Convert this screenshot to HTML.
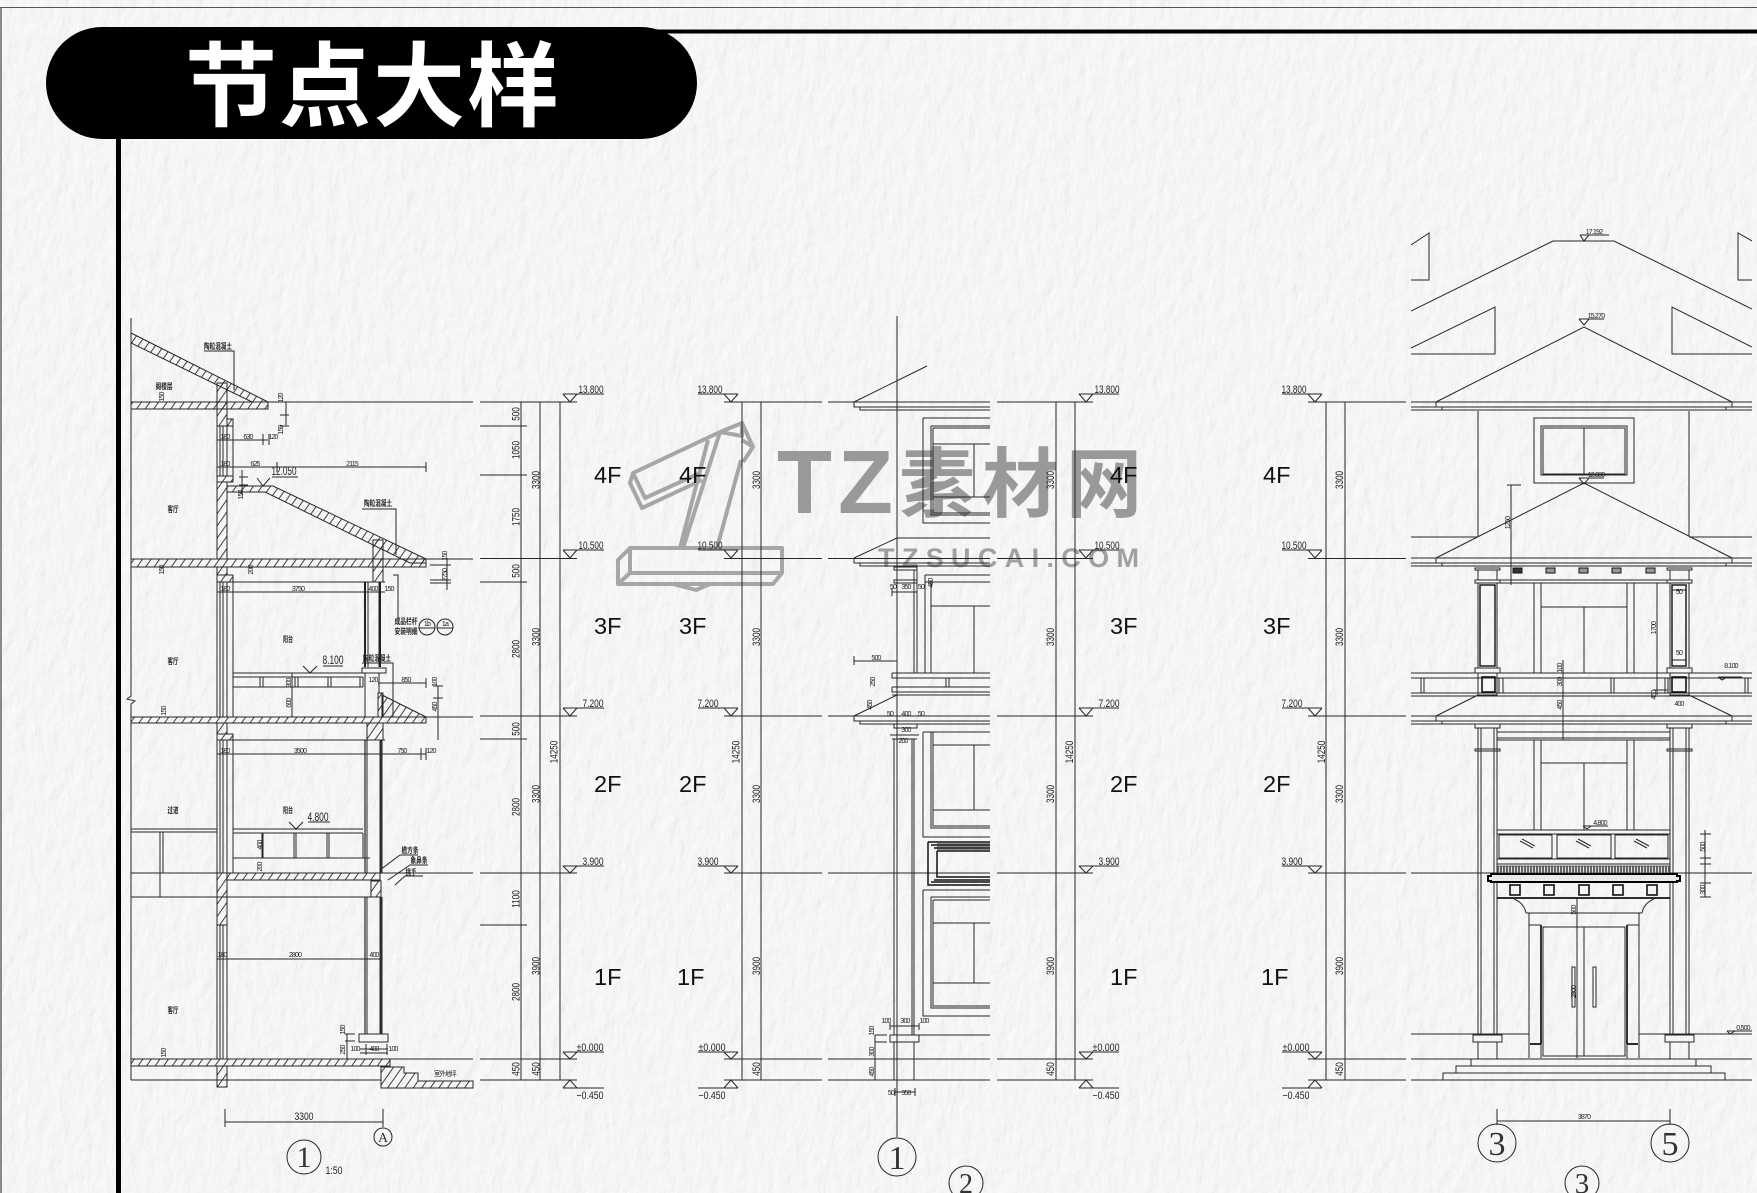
<!DOCTYPE html>
<html><head><meta charset="utf-8"><style>
html,body{margin:0;padding:0;background:#ececec}
svg{display:block}
.l{fill:none;stroke:#262626;stroke-width:1}
.h{fill:url(#hatch);stroke:#262626;stroke-width:1}
text{font-family:"Liberation Sans","Noto Sans CJK SC",sans-serif;fill:#222;text-anchor:middle}
.t{font-size:7px;letter-spacing:-.8px}
.d{font-size:11px}
.e{font-size:11px}
.f{font-family:"Liberation Sans",sans-serif;font-size:23.5px;fill:#111;text-anchor:start}
.c{font-family:"Liberation Sans","Noto Sans CJK SC",sans-serif;font-size:8px;font-weight:bold;fill:#222}
.s{font-family:"Liberation Serif",serif;fill:#333}
</style></head><body>
<svg xmlns="http://www.w3.org/2000/svg" width="1757" height="1193" viewBox="0 0 1757 1193">
<defs>
<pattern id="hatch" width="7" height="7" patternUnits="userSpaceOnUse" patternTransform="rotate(-55)"><path d="M0 3.500H7" stroke="#2a2a2a" stroke-width=".9"/></pattern>
<pattern id="dent" width="3" height="8" patternUnits="userSpaceOnUse"><rect width="3" height="8" fill="#ddd"/><path d="M1 0V8" stroke="#222" stroke-width="1.3"/></pattern>
<filter id="paper" x="0" y="0" width="100%" height="100%"><feTurbulence type="fractalNoise" baseFrequency=".09 .05" numOctaves="4" seed="11" result="n"/><feDiffuseLighting in="n" surfaceScale=".8" diffuseConstant="1" lighting-color="#ffffff"><feDistantLight azimuth="40" elevation="68"/></feDiffuseLighting></filter>
<clipPath id="clipE"><rect x="1411" y="200" width="341" height="900"/></clipPath>
</defs>
<rect width="1757" height="1193" fill="#ececec"/>
<rect width="1757" height="1193" filter="url(#paper)" opacity=".9"/>

<!-- watermark -->
<g fill="none" stroke="#a6a6a6" stroke-width="4" stroke-linejoin="round">
<path d="M630 548H782V573L773 584H618V560Z M630 548V573H782 M618 584L630 573"/>
<path d="M673 584L696 590L710 584"/>
<path d="M720 432L633 473L630 483L642 508L702 480 M633 473L645 498L700 473"/>
<path d="M720 432L683 548 M708 440L680 548 M720 432L742 423L753 447L743 462 M742 423L742 436L720 432 M741 460L717 548 M753 447L742 440"/>
</g>
<g>
<text x="777" y="513" style="font-family:'Liberation Sans',sans-serif;font-size:90px;font-weight:bold;text-anchor:start;fill:#999">T</text>
<text x="838" y="513" style="font-family:'Liberation Sans',sans-serif;font-size:90px;font-weight:bold;text-anchor:start;fill:#999">Z</text>
<text x="899" y="511" style="font-family:'Noto Sans CJK SC',sans-serif;font-size:76px;font-weight:bold;text-anchor:start;fill:#999">素</text>
<text x="982" y="511" style="font-family:'Noto Sans CJK SC',sans-serif;font-size:76px;font-weight:bold;text-anchor:start;fill:#999">材</text>
<text x="1066" y="511" style="font-family:'Noto Sans CJK SC',sans-serif;font-size:76px;font-weight:bold;text-anchor:start;fill:#999">网</text>
<text x="878" y="567" textLength="261" lengthAdjust="spacing" style="font-family:'Liberation Sans',sans-serif;font-size:27px;font-weight:bold;text-anchor:start;fill:#a0a0a0">TZSUCAI.COM</text>
</g>

<!-- frame -->
<path d="M0 7.500H1757" stroke="#555" stroke-width="1" fill="none"/>
<path d="M1 7V1193" stroke="#666" stroke-width="1.5" fill="none"/>
<rect x="640" y="29.500" width="1117" height="4" fill="#000"/>
<rect x="116" y="100" width="5" height="1093" fill="#000"/>
<rect x="46" y="27" width="651" height="112" rx="56" ry="56" fill="#000"/>
<text x="373" y="119" style="font-family:'Noto Sans CJK SC',sans-serif;font-size:92px;font-weight:bold;fill:#fff;letter-spacing:2px;text-anchor:middle">节点大样</text>

<!-- floor & dimension lines -->
<path class="l" d="M480 402H577M480 558.500H577M480 716H577M480 873H577M480 1059H577M480 1080H577
M724 402H822M724 558.500H822M724 716H822M724 873H822M724 1059H822M724 1080H822
M828 402H990M828 558.500H990M828 716H990M828 873H990M828 1059H990M828 1080H990
M997 402H1093M997 558.500H1093M997 716H1093M997 873H1093M997 1059H1093M997 1080H1093
M1308 402H1406M1308 558.500H1406M1308 716H1406M1308 873H1406M1308 1059H1406M1308 1080H1406
M480 426H527M480 475H527M480 582H527M480 739H527M480 925H527
M521 402V1080M540 402V1080M560 402V1080
M742 402V1080M761 402V1080
M1056 402V1080M1075 402V1080
M1326 402V1080M1345 402V1080"/>

<!-- elevation markers -->
<path class="l" d="M563 394H604M563 394L570 402L577 394M563 550H604M563 550L570 558L577 550M563 708H604M563 708L570 716L577 708M563 866H604M563 866L570 873L577 866M563 1052H604M563 1052L570 1059L577 1052M563 1088H604M563 1088L570 1080L577 1088
M698 394H738M724 394L731 402L738 394M698 550H738M724 550L731 558L738 550M698 708H738M724 708L731 716L738 708M698 866H738M724 866L731 873L738 866M698 1052H738M724 1052L731 1059L738 1052M698 1088H738M724 1088L731 1080L738 1088
M1079 394H1119M1079 394L1086 402L1093 394M1079 550H1119M1079 550L1086 558L1093 550M1079 708H1119M1079 708L1086 716L1093 708M1079 866H1119M1079 866L1086 873L1093 866M1079 1052H1119M1079 1052L1086 1059L1093 1052M1079 1088H1119M1079 1088L1086 1080L1093 1088
M1282 394H1322M1308 394L1315 402L1322 394M1282 550H1322M1308 550L1315 558L1322 550M1282 708H1322M1308 708L1315 716L1322 708M1282 866H1322M1308 866L1315 873L1322 866M1282 1052H1322M1308 1052L1315 1059L1322 1052M1282 1088H1322M1308 1088L1315 1080L1322 1088"/>
<g>
<text class="e" x="591" y="393" textLength="25" lengthAdjust="spacingAndGlyphs">13.800</text><text class="e" x="591" y="549" textLength="25" lengthAdjust="spacingAndGlyphs">10.500</text><text class="e" x="593" y="707" textLength="21" lengthAdjust="spacingAndGlyphs">7.200</text><text class="e" x="593" y="865" textLength="21" lengthAdjust="spacingAndGlyphs">3.900</text><text class="e" x="590" y="1051" textLength="27" lengthAdjust="spacingAndGlyphs">±0.000</text><text class="e" x="590" y="1099" textLength="27" lengthAdjust="spacingAndGlyphs">−0.450</text>
<text class="e" x="710" y="393" textLength="25" lengthAdjust="spacingAndGlyphs">13.800</text><text class="e" x="710" y="549" textLength="25" lengthAdjust="spacingAndGlyphs">10.500</text><text class="e" x="708" y="707" textLength="21" lengthAdjust="spacingAndGlyphs">7.200</text><text class="e" x="708" y="865" textLength="21" lengthAdjust="spacingAndGlyphs">3.900</text><text class="e" x="712" y="1051" textLength="27" lengthAdjust="spacingAndGlyphs">±0.000</text><text class="e" x="712" y="1099" textLength="27" lengthAdjust="spacingAndGlyphs">−0.450</text>
<text class="e" x="1107" y="393" textLength="25" lengthAdjust="spacingAndGlyphs">13.800</text><text class="e" x="1107" y="549" textLength="25" lengthAdjust="spacingAndGlyphs">10.500</text><text class="e" x="1109" y="707" textLength="21" lengthAdjust="spacingAndGlyphs">7.200</text><text class="e" x="1109" y="865" textLength="21" lengthAdjust="spacingAndGlyphs">3.900</text><text class="e" x="1106" y="1051" textLength="27" lengthAdjust="spacingAndGlyphs">±0.000</text><text class="e" x="1106" y="1099" textLength="27" lengthAdjust="spacingAndGlyphs">−0.450</text>
<text class="e" x="1294" y="393" textLength="25" lengthAdjust="spacingAndGlyphs">13.800</text><text class="e" x="1294" y="549" textLength="25" lengthAdjust="spacingAndGlyphs">10.500</text><text class="e" x="1292" y="707" textLength="21" lengthAdjust="spacingAndGlyphs">7.200</text><text class="e" x="1292" y="865" textLength="21" lengthAdjust="spacingAndGlyphs">3.900</text><text class="e" x="1296" y="1051" textLength="27" lengthAdjust="spacingAndGlyphs">±0.000</text><text class="e" x="1296" y="1099" textLength="27" lengthAdjust="spacingAndGlyphs">−0.450</text>
</g>

<!-- dim texts -->
<g>
<text class="d" transform="translate(519.500,414) rotate(-90) scale(.74,1)">500</text><text class="d" transform="translate(519.500,450) rotate(-90) scale(.74,1)">1050</text><text class="d" transform="translate(519.500,517) rotate(-90) scale(.74,1)">1750</text><text class="d" transform="translate(519.500,571) rotate(-90) scale(.74,1)">500</text><text class="d" transform="translate(519.500,649) rotate(-90) scale(.74,1)">2800</text><text class="d" transform="translate(519.500,729) rotate(-90) scale(.74,1)">500</text><text class="d" transform="translate(519.500,807) rotate(-90) scale(.74,1)">2800</text><text class="d" transform="translate(519.500,899) rotate(-90) scale(.74,1)">1100</text><text class="d" transform="translate(519.500,992) rotate(-90) scale(.74,1)">2800</text><text class="d" transform="translate(519.500,1069) rotate(-90) scale(.74,1)">450</text>
<text class="d" transform="translate(539.500,480) rotate(-90) scale(.74,1)">3300</text><text class="d" transform="translate(539.500,637) rotate(-90) scale(.74,1)">3300</text><text class="d" transform="translate(539.500,794) rotate(-90) scale(.74,1)">3300</text><text class="d" transform="translate(539.500,966) rotate(-90) scale(.74,1)">3900</text><text class="d" transform="translate(539.500,1069) rotate(-90) scale(.74,1)">450</text>
<text class="d" transform="translate(557.500,752) rotate(-90) scale(.74,1)">14250</text>
<text class="d" transform="translate(760,480) rotate(-90) scale(.74,1)">3300</text><text class="d" transform="translate(760,637) rotate(-90) scale(.74,1)">3300</text><text class="d" transform="translate(760,794) rotate(-90) scale(.74,1)">3300</text><text class="d" transform="translate(760,966) rotate(-90) scale(.74,1)">3900</text><text class="d" transform="translate(760,1069) rotate(-90) scale(.74,1)">450</text>
<text class="d" transform="translate(739.500,752) rotate(-90) scale(.74,1)">14250</text>
<text class="d" transform="translate(1054,480) rotate(-90) scale(.74,1)">3300</text><text class="d" transform="translate(1054,637) rotate(-90) scale(.74,1)">3300</text><text class="d" transform="translate(1054,794) rotate(-90) scale(.74,1)">3300</text><text class="d" transform="translate(1054,966) rotate(-90) scale(.74,1)">3900</text><text class="d" transform="translate(1054,1069) rotate(-90) scale(.74,1)">450</text>
<text class="d" transform="translate(1073,752) rotate(-90) scale(.74,1)">14250</text>
<text class="d" transform="translate(1343,480) rotate(-90) scale(.74,1)">3300</text><text class="d" transform="translate(1343,637) rotate(-90) scale(.74,1)">3300</text><text class="d" transform="translate(1343,794) rotate(-90) scale(.74,1)">3300</text><text class="d" transform="translate(1343,966) rotate(-90) scale(.74,1)">3900</text><text class="d" transform="translate(1343,1069) rotate(-90) scale(.74,1)">450</text>
<text class="d" transform="translate(1325,752) rotate(-90) scale(.74,1)">14250</text>
</g>
<text class="f" x="594" y="483">4F</text><text class="f" x="679" y="483">4F</text><text class="f" x="1110" y="483">4F</text><text class="f" x="1263" y="483">4F</text>
<text class="f" x="594" y="634">3F</text><text class="f" x="679" y="634">3F</text><text class="f" x="1110" y="634">3F</text><text class="f" x="1263" y="634">3F</text>
<text class="f" x="594" y="792">2F</text><text class="f" x="679" y="792">2F</text><text class="f" x="1110" y="792">2F</text><text class="f" x="1263" y="792">2F</text>
<text class="f" x="594" y="985">1F</text><text class="f" x="677" y="985">1F</text><text class="f" x="1110" y="985">1F</text><text class="f" x="1261" y="985">1F</text>

<!-- ===== section 1 ===== -->
<path class="h" d="M131 333L268 402H252L131 343Z"/>
<rect class="h" x="131" y="402" width="137" height="7"/>
<rect class="h" x="217" y="383" width="10" height="43"/>
<rect class="h" x="227" y="419" width="6" height="7"/>
<path class="h" d="M227 486H273L426 559V563H410L265 492H227Z"/>
<rect class="h" x="217" y="476" width="16" height="6"/>
<rect class="h" x="217" y="482" width="10" height="77"/>
<rect class="h" x="131" y="559" width="295" height="8"/>
<rect class="h" x="373" y="540" width="10" height="42"/>
<rect class="h" x="217" y="567" width="10" height="8"/>
<rect class="h" x="217" y="575" width="16" height="7"/>
<rect class="h" x="131" y="717" width="295" height="6"/>
<path class="h" d="M382 695L426 717H382Z"/>
<rect class="h" x="378" y="693" width="5" height="24"/>
<rect class="h" x="367" y="723" width="16" height="17"/>
<rect class="h" x="217" y="723" width="10" height="11"/>
<rect class="h" x="217" y="734" width="16" height="6"/>
<rect class="h" x="227" y="873" width="153" height="7"/>
<rect class="h" x="217" y="873" width="10" height="52"/>
<rect class="h" x="371" y="881" width="10" height="16"/>
<rect class="h" x="131" y="1059" width="259" height="7"/>
<rect class="h" x="217" y="1066" width="10" height="21"/>
<path class="h" d="M381 1067H404V1073H418V1081H473V1088H381Z"/>
<path class="l" d="M131 318V696L127 699L135 701L131 704V1080
M268 402H473M426 559H473M426 717H473M380 873H473M390 1059H473
M217 426V476M220 426V476M223 426V476M227 426V476M233 426V476
M217 582V717M220 582V717M223 582V717M227 582V717M233 582V717
M217 740V873M220 740V873M223 740V873M227 740V873M233 740V873
M217 925V1059M220 925V1059M223 925V1059M227 925V1059
M217 582H385M217 592H385M217 740H385M217 754H426
M217 440H268M233 434V445M263 434V445M269 434V445
M217 467H426M233 462V472M277 462V472M426 462V472
M421 748V760M426 748V760
M239 477H248M239 485H248M242 470V495
M368 582V667M379 582V667
M131 829H217M131 832H217M131 873H217M131 897H380M160 832V873M163 832V873M160 873V897
M233 829H363M233 833H363M233 858H370M233 873V829
M263 833V858M262 833V858M294 833V858M296 833V858M329 833V858M327 833V858M363 833V858
M233 673H363M233 677H363M233 687H363M233 716V673
M260 677V687M263 677V687M295 677V687M298 677V687M328 677V687M331 677V687M360 677V687M363 677V687
M292 673V717
M362 668H386V673H362ZM365 673V717M379 673V693
M378 683H426M426 678V688M433 686H443M433 698H443M433 717H443M438 686V740
M217 959H382
M359 1034H388V1042H359ZM360 1049H388M360 1053H388M366 1044V1055M387 1044V1055M345 1034H355M345 1041H355M347 1034V1059
M365 740V873M367 740V873M380 740V873M382 740V873
M365 897V1034M367 897V1034M380 897V1034M382 897V1034
M131 1080H381
M204 351H234V390M362 509H396V555M362 663H393V717
M393 575H398V618
M323 666H343M303 666L310 673L317 666
M308 822H330M289 822L296 829L303 822
M272 477H298M257 478L263 486L270 478
M380 870L400 855H418M388 880L410 865H428M395 885L405 876H423
M430 565H451M430 580H451M430 583H451M447 558V590M283 402H287M286 402V425M280 415H289M280 426H289"/>
<path d="M365 582V667M380 582V667" stroke="#222" stroke-width="2" fill="none"/>
<path d="M365 740V873M381 740V873M365 897V1034M381 897V1034" stroke="#333" stroke-width="1.3" fill="none"/>
<path class="l" d="M225 1109V1127M383 1109V1127M225 1122H383"/>
<circle class="l" cx="383" cy="1137" r="9"/>
<circle class="l" cx="304" cy="1157" r="17"/>
<text class="s" x="304" y="1167" font-size="30">1</text>
<text class="s" x="383" y="1142" font-size="14">A</text>
<text class="d" x="304" y="1120" textLength="19" lengthAdjust="spacingAndGlyphs">3300</text>
<text class="d" x="334" y="1174" textLength="17" lengthAdjust="spacingAndGlyphs">1:50</text>
<text class="d" x="284" y="475" style="font-size:12px" textLength="25" lengthAdjust="spacingAndGlyphs">12.050</text>
<text class="d" x="333" y="664" style="font-size:12px" textLength="21" lengthAdjust="spacingAndGlyphs">8.100</text>
<text class="d" x="318" y="821" style="font-size:12px" textLength="21" lengthAdjust="spacingAndGlyphs">4.800</text>
<g>
<text class="c" x="218" y="349" textLength="28" lengthAdjust="spacingAndGlyphs">陶粒混凝土</text>
<text class="c" x="378" y="506" textLength="28" lengthAdjust="spacingAndGlyphs">陶粒混凝土</text>
<text class="c" x="377" y="661" textLength="28" lengthAdjust="spacingAndGlyphs">陶粒混凝土</text>
<text class="c" x="164" y="389" textLength="17" lengthAdjust="spacingAndGlyphs">阁楼层</text>
<text class="c" x="173" y="512" textLength="11" lengthAdjust="spacingAndGlyphs">客厅</text>
<text class="c" x="173" y="664" textLength="11" lengthAdjust="spacingAndGlyphs">客厅</text>
<text class="c" x="288" y="642" textLength="10" lengthAdjust="spacingAndGlyphs">阳台</text>
<text class="c" x="173" y="813" textLength="11" lengthAdjust="spacingAndGlyphs">过道</text>
<text class="c" x="288" y="813" textLength="10" lengthAdjust="spacingAndGlyphs">阳台</text>
<text class="c" x="173" y="1013" textLength="11" lengthAdjust="spacingAndGlyphs">客厅</text>
<text class="c" x="406" y="624" textLength="23" lengthAdjust="spacingAndGlyphs">成品栏杆</text>
<text class="c" x="406" y="634" textLength="23" lengthAdjust="spacingAndGlyphs">安装明细</text>
<text class="c" x="410" y="853" textLength="17" lengthAdjust="spacingAndGlyphs">檐方条</text>
<text class="c" x="419" y="863" textLength="17" lengthAdjust="spacingAndGlyphs">象鼻条</text>
<text class="c" x="411" y="875" textLength="11" lengthAdjust="spacingAndGlyphs">挑手</text>
<text class="t" x="445" y="1076" textLength="22" lengthAdjust="spacingAndGlyphs">室外地坪</text>
</g>
<g fill="none" stroke="#222"><circle cx="427" cy="627" r="8"/><circle cx="445" cy="627" r="8"/><path d="M419 628H435M437 628H453"/></g>
<text class="t" x="427" y="626">1b</text><text class="t" x="445" y="626">1a</text>
<g>
<text class="t" x="248" y="439">630</text><text class="t" x="273" y="439">120</text><text class="t" x="225" y="439">180</text><text class="t" x="225" y="466">180</text><text class="t" x="255" y="466">625</text><text class="t" x="352" y="466">2115</text>
<text class="t" x="298" y="591">3750</text><text class="t" x="373" y="591">400</text><text class="t" x="225" y="591">180</text><text class="t" x="389" y="591">150</text>
<text class="t" x="300" y="753">3500</text><text class="t" x="402" y="753">750</text><text class="t" x="431" y="753">120</text><text class="t" x="225" y="753">180</text>
<text class="t" x="295" y="957">2800</text><text class="t" x="222" y="957">180</text><text class="t" x="374" y="957">400</text>
<text class="t" x="355" y="1051">100</text><text class="t" x="374" y="1051">400</text><text class="t" x="393" y="1051">100</text>
<text class="t" x="373" y="682">120</text><text class="t" x="406" y="682">850</text>
<text class="t" transform="translate(164,397) rotate(-90)">150</text>
<text class="t" transform="translate(164,570) rotate(-90)">150</text>
<text class="t" transform="translate(166,711) rotate(-90)">150</text>
<text class="t" transform="translate(166,1053) rotate(-90)">150</text>
<text class="t" transform="translate(253,570) rotate(-90)">200</text>
<text class="t" transform="translate(291,683) rotate(-90)">300</text>
<text class="t" transform="translate(291,703) rotate(-90)">600</text>
<text class="t" transform="translate(262,845) rotate(-90)">400</text>
<text class="t" transform="translate(262,867) rotate(-90)">200</text>
<text class="t" transform="translate(345,1030) rotate(-90)">150</text>
<text class="t" transform="translate(345,1050) rotate(-90)">250</text>
<text class="t" transform="translate(447,556) rotate(-90)">150</text>
<text class="t" transform="translate(447,575) rotate(-90)">2750</text>
<text class="t" transform="translate(437,682) rotate(-90)">100</text>
<text class="t" transform="translate(437,707) rotate(-90)">450</text>
<text class="t" transform="translate(283,398) rotate(-90)">120</text>
<text class="t" transform="translate(283,430) rotate(-90)">150</text>
<text class="t" transform="translate(243,495) rotate(-90)">150</text>
</g>

<!-- ===== elevation 2 ===== -->
<path class="l" d="M897 316V1137
M854 402L927 366M854 402V407H990M860 407V410H990
M923 418H990M923 418V523H990M931 426H990M931 426V515H990M933 428H990M933 428V513H990M933 444H990M974 444V497M933 497H990
M854 558L897 538H990M854 558V563H990M860 563V566H990
M894 567H917V570H894ZM894 580H917V583H894ZM914 570V673M917 570V673
M925 575H990M925 575V673M925 582H990M931 582V673M931 606H990M974 606V673
M892 673H990M892 673V678H990M892 687H990M892 687V692H990M892 695H990M946 678V687M949 678V687
M854 661H897M854 656V665
M854 716L897 695M854 716V721H990M860 721V724H990
M894 724H917V728H894ZM890 735H919M892 739H917
M894 739V1035M897 739V1035M912 739V1035M914 739V1035
M923 732H990M923 732V837H990M931 732V828H990M933 732V826H990M974 745V810M933 745H990M933 810H990
M923 890H990M923 890V1016H990M931 897H990M931 897V1008H990M933 900H990M933 900V1006H990M933 923H990M974 923V983M933 983H990
M890 1035H990M890 1035V1042H919V1035M894 1042V1080M897 1042V1080M914 1042V1080
M890 1023V1030M919 1023V1030M890 1026H919
M875 1035H887M875 1042H887M875 1035V1080
M895 1092H915M895 1088V1096M915 1088V1096
M892 592H917M892 588V596M917 588V596"/>
<path d="M928 842H990M928 842V885H990M931 845H990M934 848H990M937 851H990M937 851V877H990M934 880H990M931 882H990" fill="none" stroke="#111" stroke-width="1.5"/>
<rect x="937" y="843" width="53" height="7" fill="#333" opacity=".55"/>
<circle class="l" cx="897" cy="1157" r="19"/>
<text class="s" x="897" y="1169" font-size="34">1</text>
<circle class="l" cx="966" cy="1183" r="17"/>
<text class="s" x="966" y="1193" font-size="28">2</text>
<text class="t" x="906" y="589">350</text><text class="t" x="893" y="589">50</text><text class="t" x="921" y="589">50</text>
<text class="t" x="876" y="660">500</text><text class="t" x="906" y="716">400</text><text class="t" x="890" y="716">50</text><text class="t" x="921" y="716">50</text>
<text class="t" x="905" y="1023">300</text><text class="t" x="886" y="1023">100</text><text class="t" x="924" y="1023">100</text>
<text class="t" x="906" y="1095">350</text><text class="t" x="891" y="1095">50</text>
<text class="t" x="903" y="743">200</text><text class="t" x="906" y="732">300</text>
<text class="t" transform="translate(874,1031) rotate(-90)">150</text><text class="t" transform="translate(874,1052) rotate(-90)">300</text><text class="t" transform="translate(874,1072) rotate(-90)">450</text>
<text class="t" transform="translate(872,705) rotate(-90)">450</text><text class="t" transform="translate(875,682) rotate(-90)">250</text>
<text class="t" transform="translate(933,583) rotate(-90)">450</text>

<!-- ===== elevation 3 ===== -->
<g clip-path="url(#clipE)">
<path class="l" d="M1411 245L1429 233V280H1411M1752 241L1738 233V280H1752
M1411 311L1553 241H1614L1752 309
M1411 348L1495 307V354H1411M1752 347L1672 307V354H1752
M1436 402L1584 327L1732 402
M1411 402H1752M1411 407H1752M1411 410H1752M1436 402V407M1442 407V410M1732 402V407M1726 407V410
M1478 411V537M1689 411V537M1411 537H1478M1689 537H1752
M1534 418H1634V483H1534ZM1541 426H1627V475H1541ZM1543 428H1625V474H1543ZM1584 428V474
M1436 558L1584 483L1732 558M1411 558H1752M1411 563H1752M1411 566H1752M1436 558V563M1442 563V566M1732 558V563M1726 563V566
M1475 568H1500V570H1475ZM1478 570V580M1497 570V580M1475 580H1500V583H1475Z
M1667 568H1692V570H1667ZM1670 570V580M1689 570V580M1667 580H1692V583H1667Z
M1500 580H1667M1500 583H1667
M1478 583V668M1497 583V668M1670 583V668M1689 583V668
M1534 583V673M1541 583V673M1627 583V673M1634 583V673M1541 607H1627M1584 607V673
M1411 673H1752M1411 678H1752M1411 693H1752M1411 696H1752
M1421 678V693M1424 678V693M1499 678V693M1503 678V693M1611 678V693M1614 678V693M1665 678V693M1668 678V693M1745 678V693M1748 678V693
M1475 668H1500V673H1475ZM1667 668H1692V673H1667ZM1478 673V695H1497V673ZM1670 673V695H1689V673Z
M1436 716L1478 695M1732 716L1689 695M1411 716H1752M1411 721H1752M1411 724H1752M1436 716V721M1442 721V724M1732 716V721M1726 721V724
M1475 724H1500V728H1475ZM1667 724H1692V728H1667Z
M1478 728V1034M1481 728V1034M1494 728V1034M1497 728V1034M1670 728V1034M1673 728V1034M1686 728V1034M1689 728V1034
M1475 749H1500V751H1475ZM1667 749H1692V751H1667Z
M1497 732H1670M1497 738H1670M1497 740H1670
M1534 740V830M1541 740V830M1627 740V830M1634 740V830M1541 763H1627M1584 763V830
M1497 830H1670M1497 834H1670M1497 859H1670M1497 864H1670
M1499 835H1552V858H1499ZM1557 835H1611V858H1557ZM1615 835H1668V858H1615Z
M1520 841L1533 848M1522 839L1535 846M1576 841L1589 848M1578 839L1591 846M1634 841L1647 848M1636 839L1649 846
M1411 873H1752M1497 898V1034M1670 898V1034
M1526 913H1642M1514 899Q1524 903 1526 913M1654 899Q1644 903 1642 913
M1529 913V1058M1541 925V1058M1627 925V1058M1639 913V1058M1529 925H1541M1627 925H1639
M1543 927H1625V1056H1543ZM1584 927V1056M1577 898V1058
M1411 1034H1529M1639 1034H1752
M1473 1035H1502V1042H1473ZM1665 1035H1694V1042H1665Z
M1478 1042V1059M1497 1042V1059M1670 1042V1059M1689 1042V1059
M1411 1059H1752M1471 1059H1696V1066H1471ZM1456 1066H1711V1073H1456ZM1443 1073H1725V1080H1443ZM1411 1080H1752
M1572 967H1575V1007H1572ZM1593 967H1596V1007H1593Z
M1580 235H1609M1580 235L1584 241L1589 235M1579 319H1604M1579 319L1584 325L1589 319M1579 478H1604M1579 478L1584 484L1589 478
M1718 677H1742M1718 677L1722 680L1727 677M1583 826H1608M1583 826L1587 829L1591 826M1727 1031H1752M1727 1031L1730 1034L1735 1031
M1511 485V585M1507 485H1521M1657 583V695M1653 690H1668
M1563 660V740M1705 830V897M1700 834H1711M1700 858H1711M1700 864H1711M1700 873H1711M1700 883H1711M1700 897H1711
M1672 590H1686M1672 660H1686"/>
<rect x="1480" y="585" width="15" height="81" fill="none" stroke="#111" stroke-width="1.4"/>
<rect x="1672" y="585" width="14" height="81" fill="none" stroke="#111" stroke-width="1.4"/>
<rect x="1482" y="677" width="13" height="15" fill="none" stroke="#111" stroke-width="1.6"/>
<rect x="1672" y="677" width="14" height="15" fill="none" stroke="#111" stroke-width="1.6"/>
<g fill="#999" stroke="#111"><rect x="1513" y="568" width="9" height="5" fill="#333"/><rect x="1546" y="568" width="9" height="5"/><rect x="1579" y="568" width="9" height="5"/><rect x="1612" y="568" width="9" height="5"/><rect x="1646" y="568" width="9" height="5"/></g>
<rect x="1498" y="866" width="171" height="7" fill="url(#dent)" stroke="#222" stroke-width=".6"/>
<path d="M1488 876H1491V874H1677V876H1680V881H1677V882H1491V881H1488Z" fill="#e9e9e9" stroke="#000" stroke-width="2"/>
<g fill="none" stroke="#111" stroke-width="1.6"><rect x="1510" y="885" width="10" height="10"/><rect x="1544" y="885" width="10" height="10"/><rect x="1579" y="885" width="10" height="10"/><rect x="1613" y="885" width="10" height="10"/><rect x="1647" y="885" width="10" height="10"/><path d="M1497 898H1670" stroke-width="1.7"/><path d="M1541 925V1044M1627 925V1044M1530 1044H1541M1627 1044H1638" stroke-width="1.7"/></g>
<text class="t" x="1594" y="234">17.192</text><text class="t" x="1596" y="318">15.270</text><text class="t" x="1596" y="477">12.330</text>
<text class="t" x="1731" y="668">8.100</text><text class="t" x="1600" y="825">4.800</text><text class="t" x="1743" y="1030">0.500</text>
<text class="t" x="1679" y="594">50</text><text class="t" x="1679" y="655">50</text><text class="t" x="1679" y="706">400</text>
<text class="t" transform="translate(1510,523) rotate(-90)">1250</text><text class="t" transform="translate(1656,628) rotate(-90)">1700</text><text class="t" transform="translate(1562,668) rotate(-90)">100</text><text class="t" transform="translate(1562,682) rotate(-90)">300</text><text class="t" transform="translate(1562,705) rotate(-90)">450</text>
<text class="t" transform="translate(1705,847) rotate(-90)">500</text><text class="t" transform="translate(1705,890) rotate(-90)">300</text><text class="t" transform="translate(1576,910) rotate(-90)">500</text><text class="t" transform="translate(1576,992) rotate(-90)">2800</text><text class="t" transform="translate(1656,695) rotate(-90)">450</text>
</g>
<path class="l" d="M1497 1109V1125M1670 1109V1125M1497 1121H1670"/>
<text class="t" x="1584" y="1119">3870</text>
<circle class="l" cx="1497" cy="1143" r="19"/><text class="s" x="1497" y="1155" font-size="34">3</text>
<circle class="l" cx="1670" cy="1143" r="19"/><text class="s" x="1670" y="1155" font-size="34">5</text>
<circle class="l" cx="1582" cy="1183" r="17"/><text class="s" x="1582" y="1193" font-size="29">3</text>
</svg>
</body></html>
